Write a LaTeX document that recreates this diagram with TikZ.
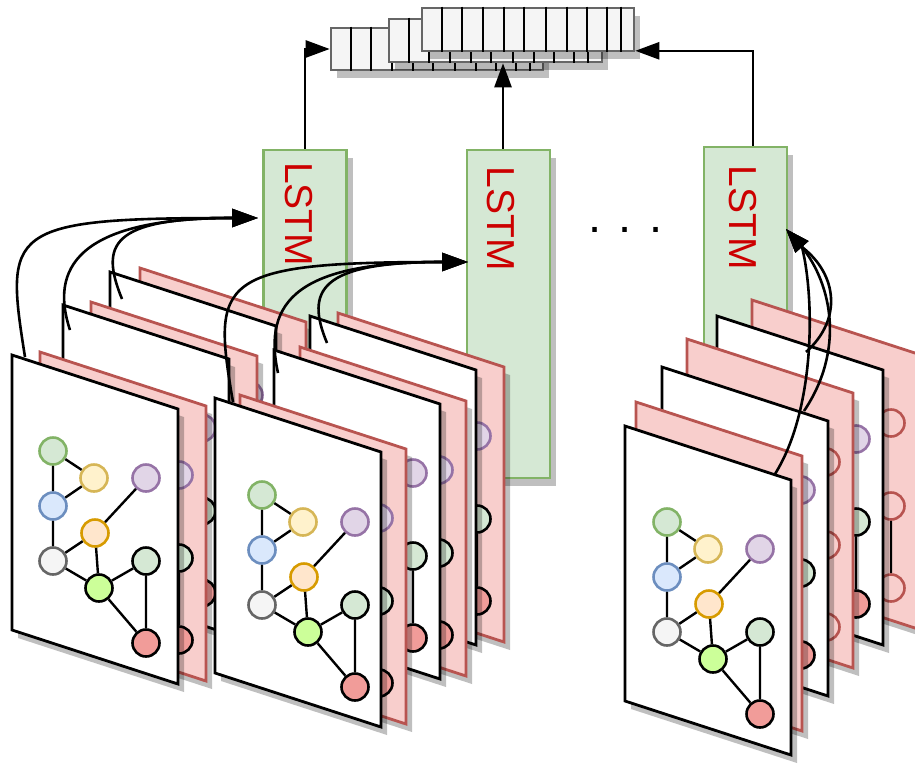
\documentclass[tikz,border=0pt]{standalone}
\usepackage{fontspec}
\setmainfont{Liberation Sans}
\usetikzlibrary{arrows.meta,calc,shadows}
\definecolor{lgreenF}{HTML}{D5E8D4}\definecolor{lgreenS}{HTML}{82B366}
\definecolor{yelF}{HTML}{FFF2CC}\definecolor{yelS}{HTML}{D6B656}
\definecolor{purF}{HTML}{E1D5E7}\definecolor{purS}{HTML}{9673A6}
\definecolor{bluF}{HTML}{DAE8FC}\definecolor{bluS}{HTML}{6C8EBF}
\definecolor{oraF}{HTML}{FFE6CC}\definecolor{oraS}{HTML}{D79B00}
\definecolor{graF}{HTML}{F5F5F5}\definecolor{graS}{HTML}{666666}
\definecolor{limF}{HTML}{CCFF99}
\definecolor{redF}{HTML}{F19C99}
\definecolor{pinkF}{HTML}{F8CECC}\definecolor{pinkS}{HTML}{B85450}
\definecolor{lstmT}{HTML}{CC0000}
\tikzset{
  shadowc/.style={fill=black,opacity=0.25},
  wsheet/.style={fill=white,draw=black,line width=2.8pt},
  psheet/.style={fill=pinkF,draw=pinkS,line width=2.8pt},
  gn/.style={circle,minimum size=27pt,inner sep=0pt,line width=2.6pt},
  gac/.style={fill=lgreenF,draw=lgreenS},
  gbc/.style={fill=yelF,draw=yelS},
  gcc/.style={fill=purF,draw=purS},
  gdc/.style={fill=bluF,draw=bluS},
  gec/.style={fill=oraF,draw=oraS},
  gfc/.style={fill=graF,draw=graS},
  ggc/.style={fill=lgreenF,draw=black},
  ghc/.style={fill=limF,draw=black},
  gic/.style={fill=redF,draw=black},
  pinkn/.style={fill=pinkF,draw=pinkS},
  gap/.style={pinkn},gbp/.style={pinkn},gcp/.style={pinkn},gdp/.style={pinkn},
  gep/.style={pinkn},gfp/.style={pinkn},ggp/.style={pinkn},ghp/.style={pinkn},gip/.style={pinkn},
  gedge/.style={line width=2.4pt,draw=black},
  lstmbox/.style={draw=lgreenS,fill=lgreenF,line width=2.4pt,minimum width=83pt,minimum height=328pt,inner sep=0pt,
    drop shadow={shadow xshift=6pt,shadow yshift=-8pt,fill=black,opacity=0.25}},
  ltext/.style={text=lstmT,font=\fontsize{39pt}{40pt}\selectfont,rotate=-90,inner sep=0pt,anchor=base west},
  arraybox/.style={draw=graS,fill=graF,line width=2.6pt,inner sep=0pt,
    drop shadow={shadow xshift=6pt,shadow yshift=-8pt,fill=black,opacity=0.25}},
  cellline/.style={line width=2.4pt,draw=black},
  conn/.style={line width=2.6pt,-{Triangle[length=24pt,width=17pt]}},
  cconn/.style={line width=2.6pt,-{Triangle[length=26pt,width=18pt]}},
}
\newcommand\netgraph[4]{%
\begin{scope}[shift={(#2,#3)}]
\node[gn,ga#4] (#1a) at (0,0) {};
\node[gn,gb#4] (#1b) at (41,27) {};
\node[gn,gc#4] (#1c) at (93,27) {};
\node[gn,gd#4] (#1d) at (0,55) {};
\node[gn,ge#4] (#1e) at (42,82) {};
\node[gn,gf#4] (#1f) at (0,110) {};
\node[gn,gg#4] (#1g) at (93,110) {};
\node[gn,gh#4] (#1h) at (46,137) {};
\node[gn,gi#4] (#1i) at (93,192) {};
\draw[gedge] (#1a)--(#1b) (#1a)--(#1d) (#1d)--(#1b) (#1d)--(#1f) (#1f)--(#1e)
  (#1e)--(#1c) (#1e)--(#1h) (#1f)--(#1h) (#1h)--(#1g) (#1h)--(#1i) (#1g)--(#1i);
\end{scope}}
\newcommand\layer[7]{%
\fill[shadowc] ({#2+6},{#3+8}) -- ++(166,54) -- ++(0,275) -- ++(-166,-54) -- cycle;
\filldraw[#4] (#2,#3) -- ++(166,54) -- ++(0,275) -- ++(-166,-54) -- cycle;
\netgraph{#1}{#2+#5}{#3+#6}{#7}}
\begin{document}
\begin{tikzpicture}[x=1pt,y=-1pt]
\useasboundingbox (0,0) rectangle (915,763);
% LSTM boxes
\node[lstmbox] (L1) at (305,314) {};
\node[lstmbox] (L2) at (508.5,314) {};
\node[lstmbox] (L3) at (745.5,311) {};
\node[ltext] (L1t) at (285,162) {LSTM};
\node[ltext] (L2t) at (487,166.5) {LSTM};
\node[ltext] (L3t) at (729,165.5) {LSTM};
\node[font=\fontsize{47pt}{48pt}\selectfont,anchor=base west,inner sep=0pt] (dots) at (588,232) {. . .};
% arrays
\node[arraybox,minimum width=212pt,minimum height=42pt] (A) at (437,49) {};
\foreach \o in {21,41,62,83,103,125,146,166,186,200}{\draw[cellline] ($(A.north west)+(\o,0)$) -- ($(A.south west)+(\o,0)$);}
\node[arraybox,minimum width=213pt,minimum height=43pt] (B) at (495.5,40.5) {};
\foreach \o in {21,41,62,83,103,125,146,166,186,200}{\draw[cellline] ($(B.north west)+(\o,0)$) -- ($(B.south west)+(\o,0)$);}
\node[arraybox,minimum width=212pt,minimum height=43pt] (C) at (528,29.5) {};
\foreach \o in {21,41,62,83,103,125,146,166,186,200}{\draw[cellline] ($(C.north west)+(\o,0)$) -- ($(C.south west)+(\o,0)$);}
% top arrows
\coordinate (L2o) at ($(L2.north)+(-5.5,0)$);
\coordinate (L3o) at ($(L3.north)+(7.5,0)$);
\coordinate (Cin) at ($(C.south east)+(0,-1.5)$);
\draw[conn] (L1.north) |- (A.west);
\draw[conn] (L2o) -- (L2o |- B.south);
\draw[conn] (L3o) |- (Cin);
% group 1
\layer{g1bp}{140}{268}{psheet}{46}{96}{c}
\layer{g1bw}{110}{272}{wsheet}{46}{96}{c}
\layer{g1mp}{91}{302}{psheet}{46}{96}{c}
\layer{g1mw}{63}{305}{wsheet}{46}{96}{c}
\layer{g1fp}{40}{352}{psheet}{46}{96}{c}
\layer{g1fw}{12}{355}{wsheet}{41}{96}{c}
% group 2
\layer{g2bp}{338}{313}{psheet}{46}{96}{c}
\layer{g2bw}{310}{316}{wsheet}{46}{96}{c}
\layer{g2mp}{300}{347}{psheet}{46}{96}{c}
\layer{g2mw}{274}{350}{wsheet}{46}{96}{c}
\layer{g2fp}{240}{395}{psheet}{46}{96}{c}
\layer{g2fw}{215}{398}{wsheet}{47}{97}{c}
% group 3
\layer{g3bp}{752}{300}{psheet}{46}{96}{p}
\layer{g3bw}{717}{316}{wsheet}{46}{96}{c}
\layer{g3mp}{687}{339}{psheet}{46}{96}{p}
\layer{g3mw}{662}{367}{wsheet}{46}{96}{c}
\layer{g3fp}{636}{402}{psheet}{46}{96}{p}
\layer{g3fw}{625}{426}{wsheet}{42}{96}{c}
% curved connectors
\coordinate (s11) at (25,357);
\coordinate (s12) at (70,330);
\coordinate (s13) at (122,299);
\coordinate (t1) at (258,218);
\draw[cconn] (s11) .. controls (5,230) and (5,218) .. (232,218) -- (t1);
\draw[cconn] (s12) .. controls (50,270) and (75,218) .. (232,218) -- (t1);
\draw[cconn] (s13) .. controls (100,245) and (110,218) .. (232,218) -- (t1);
\coordinate (s21) at (233,402);
\coordinate (s22) at (278,373);
\coordinate (s23) at (327,343);
\coordinate (t2) at (468,262);
\draw[cconn] (s21) .. controls (212,280) and (215,262) .. (442,262) -- (t2);
\draw[cconn] (s22) .. controls (262,300) and (300,262) .. (442,262) -- (t2);
\draw[cconn] (s23) .. controls (305,290) and (320,262) .. (442,262) -- (t2);
\coordinate (s31) at (775,474);
\coordinate (s32) at (804,411);
\coordinate (s33) at (806,352);
\coordinate (b3) at (802,247);
\coordinate (t3) at (786,229);
\draw[conn] (s31) .. controls (815,410) and (815,300) .. (b3) -- (t3);
\draw[conn] (s32) .. controls (845,350) and (832,285) .. (b3) -- (t3);
\draw[conn] (s33) .. controls (842,320) and (838,275) .. (b3) -- (t3);
\end{tikzpicture}
\end{document}
